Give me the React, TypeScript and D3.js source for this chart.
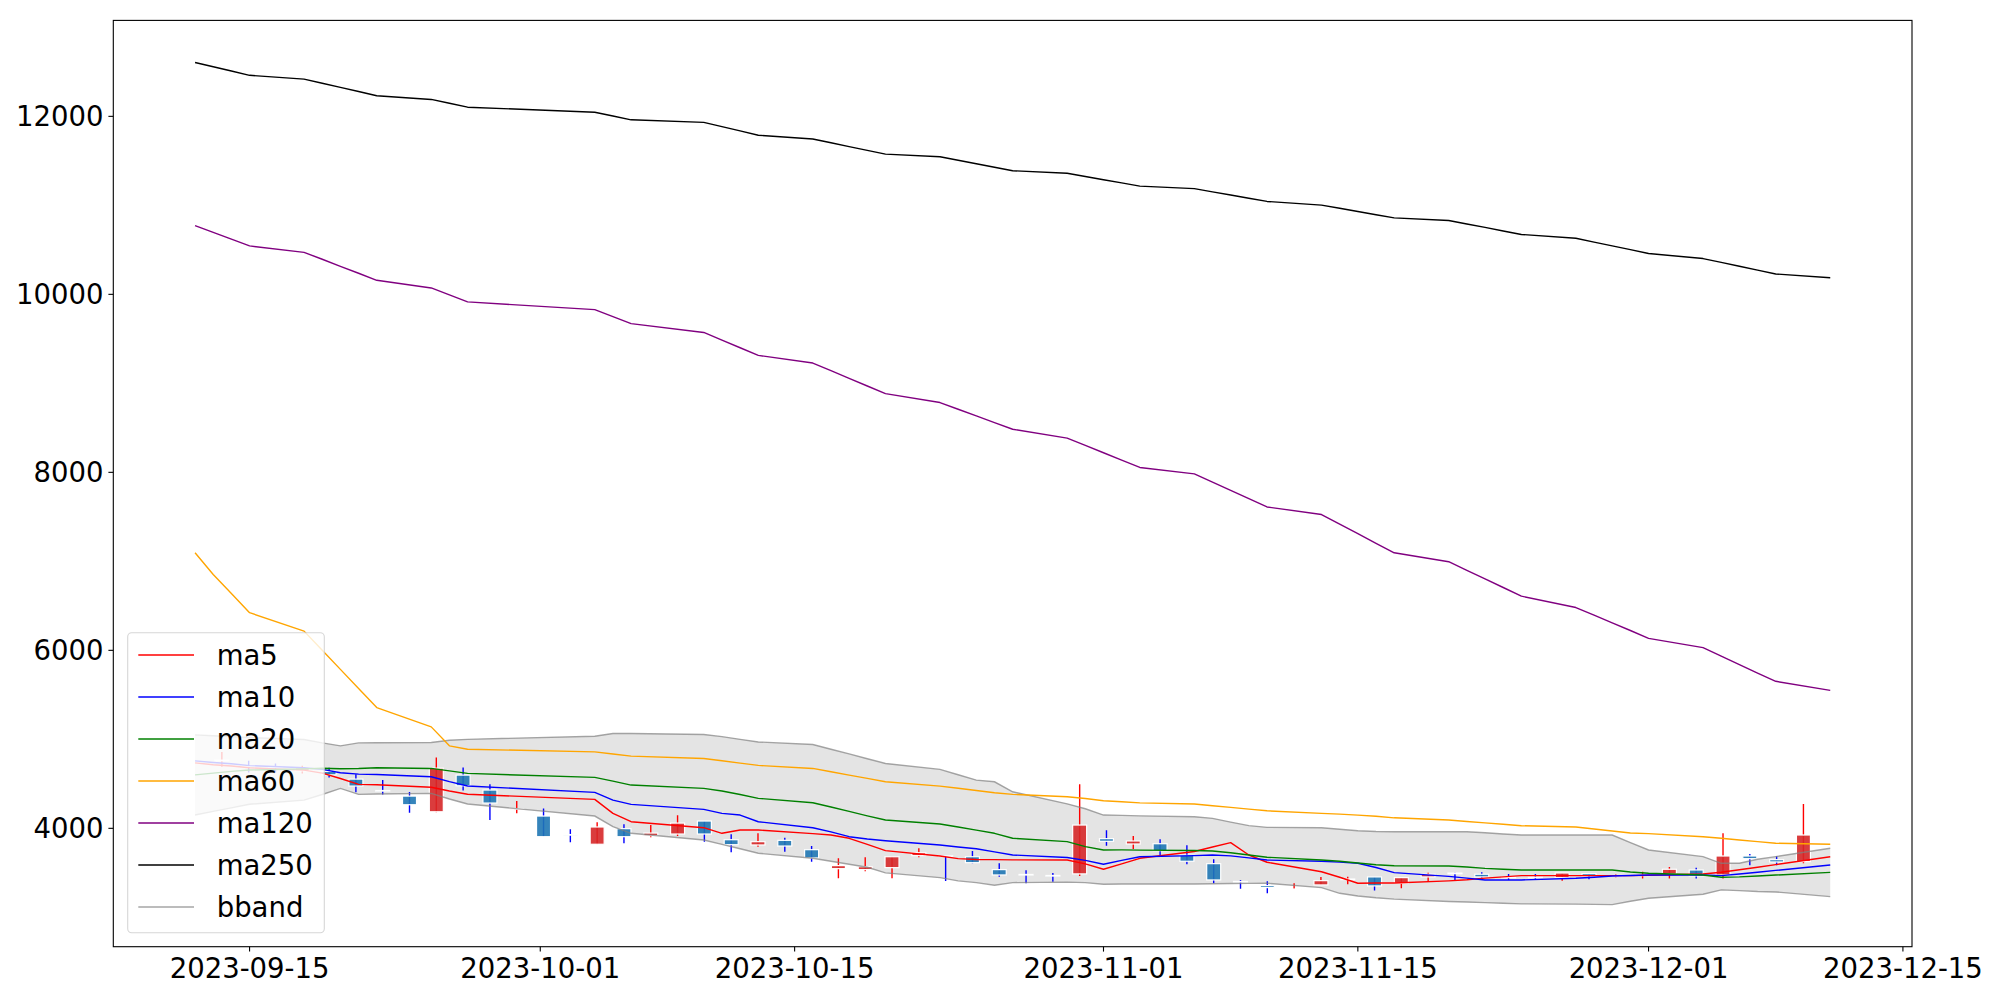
import React from "react";
import * as d3 from "d3";

// ---------- DATA ----------
const lineDates = ["2023-09-12","2023-09-13","2023-09-14","2023-09-15","2023-09-18","2023-09-19","2023-09-20","2023-09-21","2023-09-22","2023-09-25","2023-09-26","2023-09-27","2023-10-04","2023-10-05","2023-10-06","2023-10-10","2023-10-11","2023-10-12","2023-10-13","2023-10-16","2023-10-17","2023-10-18","2023-10-19","2023-10-20","2023-10-23","2023-10-24","2023-10-25","2023-10-26","2023-10-27","2023-10-30","2023-10-31","2023-11-01","2023-11-02","2023-11-03","2023-11-06","2023-11-07","2023-11-08","2023-11-09","2023-11-10","2023-11-13","2023-11-14","2023-11-15","2023-11-16","2023-11-17","2023-11-20","2023-11-21","2023-11-22","2023-11-23","2023-11-24","2023-11-27","2023-11-28","2023-11-29","2023-11-30","2023-12-01","2023-12-04","2023-12-05","2023-12-06","2023-12-07","2023-12-08","2023-12-11"];

const ma5 = [4735,4715,4700,4680,4654,4620,4560,4494,4490,4462,4420,4383,
  4325,4168,4074,4007,3944,3981,3981,3940,3925,3888,3820,3749,3689,3660,3650,3648,3646,
  3644,3600,3540,3600,3663,3740,3790,3839,3700,3619,3512,3450,3383,3385,3385,
  3410,3422,3440,3455,3468,3468,3468,3468,3468,3472,3487,3506,3534,3563,3592,3681];
const ma10 = [4758,4740,4725,4705,4680,4662,4625,4609,4604,4579,4525,4476,
  4404,4317,4269,4213,4168,4149,4074,4007,3960,3906,3880,3861,3813,3790,3770,3735,3701,
  3672,3640,3596,3640,3681,3693,3700,3690,3668,3644,3630,3620,3607,3560,3502,
  3460,3440,3420,3420,3420,3439,3450,3465,3470,3476,3476,3468,3487,3507,3527,3588];
const ma20 = [4600,4620,4640,4655,4668,4675,4670,4672,4680,4673,4646,4617,
  4572,4530,4486,4449,4420,4380,4337,4287,4240,4190,4140,4093,4048,4015,3980,3944,3888,
  3850,3795,3757,3758,3755,3750,3745,3726,3700,3675,3644,3630,3610,3590,3580,
  3577,3565,3550,3540,3532,3532,3532,3532,3510,3495,3476,3450,3455,3465,3475,3505];
const ma60 = [7096,6852,6639,6423,6216,6001,5786,5572,5357,5140,4927,4889,
  4859,4835,4811,4785,4759,4733,4707,4673,4636,4598,4561,4523,4474,4450,4425,4400,4381,
  4354,4335,4310,4298,4286,4273,4254,4235,4216,4197,4168,4160,4148,4135,4118,
  4093,4077,4061,4045,4029,4015,3993,3970,3948,3940,3906,3888,3869,3851,3832,3821];
const ma120 = [10773,10697,10620,10544,10472,10394,10315,10237,10158,10072,9994,9915,
  9828,9750,9671,9572,9486,9400,9314,9228,9142,9056,8970,8884,8784,8709,8634,8559,8484,
  8384,8302,8220,8137,8055,7983,7890,7797,7704,7611,7526,7418,7311,7203,7096,
  6996,6899,6802,6706,6609,6481,6395,6309,6223,6134,6030,5935,5840,5745,5652,5550];
const ma250 = [12605,12557,12509,12461,12418,12372,12325,12279,12232,12190,12147,12103,
  12046,12004,11961,11932,11884,11836,11788,11746,11703,11660,11618,11575,11546,11507,11468,11428,11389,
  11360,11324,11288,11252,11216,11188,11152,11116,11080,11044,11003,10967,10931,10895,10859,
  10830,10791,10752,10712,10673,10630,10587,10545,10502,10459,10402,10359,10316,10272,10229,10186];
const bbandUpper = [5050,5040,5030,5020,4998,4960,4927,4960,4962,4965,4990,5000,
  5035,5066,5066,5055,5030,5000,4970,4942,4889,4836,4782,4729,4662,4602,4542,4523,4411,
  4275,4220,4149,4145,4140,4130,4112,4070,4030,4011,4007,3990,3973,3965,3962,
  3962,3962,3950,3937,3925,3925,3925,3925,3840,3757,3682,3607,3607,3652,3682,3776];
const bbandLower = [4150,4190,4230,4270,4317,4380,4449,4381,4385,4393,4330,4273,
  4138,4018,3944,3869,3820,3770,3720,3664,3630,3596,3562,3500,3446,3410,3390,3361,3390,
  3395,3390,3372,3375,3375,3375,3378,3380,3382,3383,3334,3270,3240,3220,3205,
  3177,3172,3165,3158,3151,3148,3146,3143,3180,3215,3260,3308,3300,3290,3285,3233];

// candles (open, high, low, close)
const candleOpen = [4760,4700,4690,4646,4639,4553,4425,4362,4186,4598,4430,4218,4138,3930,3821,3996,3917,3936,4082,3872,
  3813,3865,3760,3547,3536,3558,3693,3692,3681,3536,3482,3470,3488,3884,3824,3827,3697,3603,3403,3356,
  3314,3364,3426,3454,3383,3454,3497,3484,3452,3452,3446,3491,3464,3471,3487,3532,3476,3689,3648,3626];
const candleHigh = [4859,4758,4729,4702,4680,4609,4542,4407,4796,4684,4494,4306,4224,3989,4067,4045,4037,4146,4082,3933,
  3944,3895,3801,3664,3675,3681,3776,3692,3745,3607,3529,3499,4494,3978,3914,3877,3809,3652,3420,3406,
  3383,3454,3457,3454,3446,3502,3502,3506,3487,3487,3498,3491,3480,3513,3566,3558,3944,3712,3686,4273];
const candleLow = [4691,4628,4628,4617,4572,4404,4381,4175,4180,4426,4093,4168,3906,3843,3821,3832,3899,3914,3850,3731,
  3794,3738,3625,3439,3518,3439,3675,3409,3607,3457,3383,3401,3465,3805,3768,3697,3596,3383,3322,3271,
  3308,3364,3372,3300,3327,3401,3420,3420,3420,3420,3412,3428,3450,3435,3435,3435,3435,3585,3585,3607];
const candleClose = [4766,4690,4685,4680,4601,4475,4418,4265,4676,4478,4284,4222,3906,3925,4015,3906,3947,4059,3936,3816,
  3850,3801,3667,3581,3569,3681,3726,3688,3614,3476,3478,3466,4037,3854,3858,3749,3630,3420,3399,3334,
  3318,3412,3430,3353,3446,3484,3493,3454,3448,3448,3498,3465,3468,3475,3540,3465,3689,3659,3622,3925];

const yTicks = [4000, 6000, 8000, 10000, 12000];
const xTickLabels = ["2023-09-15","2023-10-01","2023-10-15","2023-11-01","2023-11-15","2023-12-01","2023-12-15"];

const seriesNames = ["ma5","ma10","ma20","ma60","ma120","ma250"];
const seriesValues = [ma5, ma10, ma20, ma60, ma120, ma250];
const seriesColors = ["red","blue","green","orange","purple","black"];

// ---------- LAYOUT ----------
const W = 2000, H = 1000;
const AX_L = 113.3, AX_R = 1912, AX_T = 20.4, AX_B = 946.7;
const FONT = "DejaVu Sans";
const FS = 27.5;
const DAY = 86400000;

export default function App() {
  const parse = d3.utcParse("%Y-%m-%d");
  const dates = lineDates.map((s) => parse(s) as Date);
  const t0 = dates[0].getTime();
  const t1 = dates[dates.length - 1].getTime();
  const xPad = (t1 - t0) * 0.05;
  const x = d3.scaleUtc().domain([new Date(t0 - xPad), new Date(t1 + xPad)]).range([AX_L, AX_R]);

  const allVals = [...seriesValues.flat(), ...bbandUpper, ...bbandLower, ...candleHigh, ...candleLow];
  const [vmin, vmax] = d3.extent(allVals) as [number, number];
  const yPad = (vmax - vmin) * 0.05;
  const y = d3.scaleLinear().domain([vmin - yPad, vmax + yPad]).range([AX_B, AX_T]);

  const line = d3.line<number>().x((_, i) => x(dates[i])).y((v) => y(v));
  const area = d3.area<number>()
    .x((_, i) => x(dates[i]))
    .y0((_, i) => y(bbandLower[i]))
    .y1((v) => y(v));

  const n = candleOpen.length;
  const candleT = (i: number) => new Date(t0 + ((i + 1) * (t1 - t0)) / (n + 1));
  const bodyW = x(new Date(t0 + 0.77 * DAY)) - x(new Date(t0));

  const legendItems = [...seriesNames.map((nm, i) => ({ nm, color: seriesColors[i], op: 1 })), { nm: "bband", color: "gray", op: 0.7 }];
  const LG_X = 127.7, LG_Y = 632.7, LG_W = 196.6, LG_H = 300;

  return (
    <svg width={W} height={H} style={{ position: "absolute", left: 0, top: 0, background: "white" }} fontFamily={FONT}>
      <rect x={0} y={0} width={W} height={H} fill="white" />
      <defs>
        <clipPath id="plot">
          <rect x={AX_L} y={AX_T} width={AX_R - AX_L} height={AX_B - AX_T} />
        </clipPath>
      </defs>
      <g clipPath="url(#plot)">
        <path d={area(bbandUpper) || ""} fill="gray" fillOpacity={0.21} stroke="none" />
        {candleOpen.map((o, i) => {
          const c = candleClose[i];
          const up = c >= o;
          const cx = x(candleT(i));
          const top = y(Math.max(o, c));
          const bot = y(Math.min(o, c));
          return (
            <g key={i}>
              <line x1={cx} x2={cx} y1={y(candleHigh[i])} y2={y(candleLow[i])} stroke={up ? "red" : "blue"} strokeWidth={1.4} />
              <rect x={cx - bodyW / 2} y={top} width={bodyW} height={Math.max(bot - top, 0.6)}
                fill={up ? "#d62728" : "#1f77b4"} fillOpacity={0.9} stroke="white" strokeWidth={1.2} />
            </g>
          );
        })}
        <path d={line(bbandUpper) || ""} fill="none" stroke="gray" strokeOpacity={0.7} strokeWidth={1.4} />
        <path d={line(bbandLower) || ""} fill="none" stroke="gray" strokeOpacity={0.7} strokeWidth={1.4} />
        {seriesValues.map((vals, k) => (
          <path key={k} d={line(vals) || ""} fill="none" stroke={seriesColors[k]} strokeWidth={1.4} strokeLinejoin="round" />
        ))}
      </g>

      {/* axes frame */}
      <rect x={AX_L} y={AX_T} width={AX_R - AX_L} height={AX_B - AX_T} fill="none" stroke="black" strokeWidth={1.1} />

      {/* y ticks */}
      {yTicks.map((t) => (
        <g key={t}>
          <line x1={AX_L - 4.9} x2={AX_L} y1={y(t)} y2={y(t)} stroke="black" strokeWidth={1.1} />
          <text x={AX_L - 9.7} y={y(t)} dy="0.36em" textAnchor="end" fontSize={FS} fill="black">{t}</text>
        </g>
      ))}
      {/* x ticks */}
      {xTickLabels.map((s) => {
        const xx = x(parse(s) as Date);
        return (
          <g key={s}>
            <line x1={xx} x2={xx} y1={AX_B} y2={AX_B + 4.9} stroke="black" strokeWidth={1.1} />
            <text x={xx} y={AX_B + 31} textAnchor="middle" fontSize={FS} fill="black">{s}</text>
          </g>
        );
      })}

      {/* legend */}
      <rect x={LG_X} y={LG_Y} width={LG_W} height={LG_H} rx={4} ry={4} fill="white" fillOpacity={0.8} stroke="#cccccc" strokeOpacity={0.8} strokeWidth={1.1} />
      {legendItems.map((it, k) => {
        const ly = 655 + k * 42;
        return (
          <g key={it.nm}>
            <line x1={138.3} x2={194} y1={ly} y2={ly} stroke={it.color} strokeOpacity={it.op} strokeWidth={1.4} />
            <text x={216.7} y={ly} dy="0.36em" fontSize={FS} fill="black">{it.nm}</text>
          </g>
        );
      })}
    </svg>
  );
}
